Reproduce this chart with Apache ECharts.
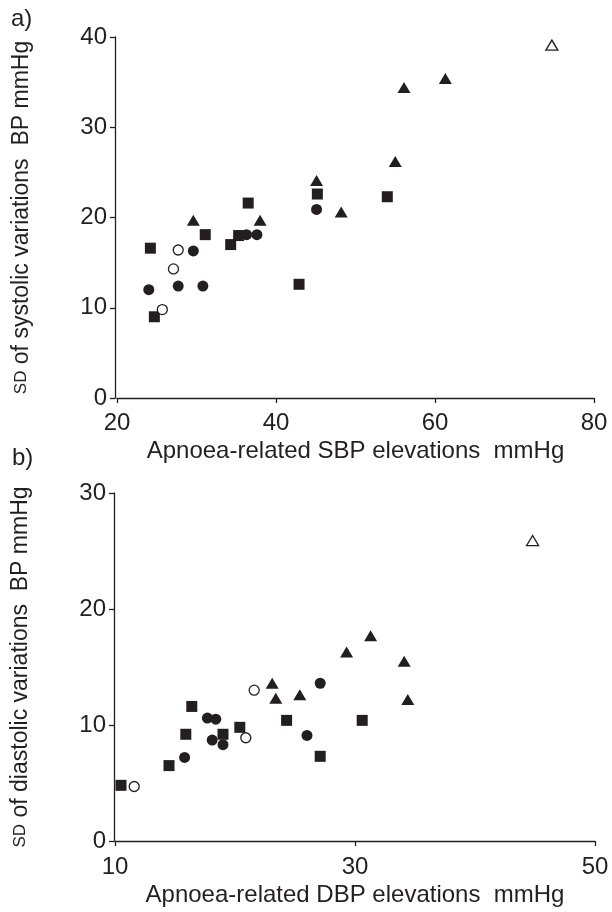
<!DOCTYPE html>
<html lang="en">
<head>
    <meta charset="UTF-8">
    <title>Apnoea-related BP elevations</title>
    <script src="https://cdn.jsdelivr.net/npm/echarts@6/dist/echarts.min.js"></script>
    <style>
        html, body { margin: 0; padding: 0; background: #fff; }
        #box { width: 612px; height: 912px; }
    </style>
</head>
<body>
<div id="box"></div>
<script>
    // a) systolic: [elevation, SD]
    var sbpSquares = [[24.2,16.6],[24.7,9.0],[31.1,18.1],[34.3,17.0],[35.3,18.0],[36.5,21.6],[42.9,12.6],[45.2,22.6],[54.0,22.3]];
    var sbpCircles = [[24.0,12.0],[27.7,12.4],[29.6,16.3],[30.8,12.4],[36.3,18.1],[37.6,18.1],[45.1,20.9]];
    var sbpOpenCircles = [[25.7,9.8],[27.1,14.3],[27.7,16.4]];
    var sbpTriangles = [[29.6,19.7],[38.0,19.7],[45.1,24.1],[48.2,20.6],[55.0,26.2],[56.1,34.4],[61.3,35.4]];
    var sbpOpenTriangles = [[74.7,39.1]];

    // b) diastolic
    var dbpSquares = [[10.5,4.8],[14.5,6.5],[15.9,9.2],[16.4,11.6],[19.0,9.2],[20.4,9.8],[24.3,10.4],[27.1,7.3],[30.6,10.4]];
    var dbpCircles = [[15.8,7.2],[17.7,10.6],[18.4,10.5],[18.1,8.7],[19.0,8.3],[26.0,9.1],[27.1,13.6]];
    var dbpOpenCircles = [[11.6,4.7],[20.9,8.9],[21.6,13.0]];
    var dbpTriangles = [[23.1,13.6],[23.4,12.3],[25.4,12.6],[29.3,16.3],[31.3,17.7],[34.1,15.5],[34.4,12.2]];
    var dbpOpenTriangles = [[44.8,25.9]];

    var ink = '#231f20';
    var font = '"Liberation Sans", Arial, sans-serif';

    function marks(data, idx, symbol, size, open) {
        return {
            type: 'scatter',
            xAxisIndex: idx,
            yAxisIndex: idx,
            symbol: symbol,
            symbolSize: size,
            data: data,
            silent: true,
            itemStyle: open
                ? { color: '#fff', borderColor: ink, borderWidth: 1.3, opacity: 1 }
                : { color: ink, opacity: 1 }
        };
    }

    function xAxis(idx, min, max, interval, name, offset) {
        return {
            gridIndex: idx, type: 'value', min: min, max: max, interval: interval,
            offset: offset,
            name: name, nameLocation: 'middle', nameGap: 36,
            nameTextStyle: { fontFamily: font, fontSize: 24, color: ink },
            axisLine: { show: true, lineStyle: { color: ink, width: 1.3 } },
            axisTick: { show: true, length: 5, lineStyle: { color: ink, width: 1.3 } },
            axisLabel: { fontFamily: font, fontSize: 24, color: ink, margin: 8 },
            splitLine: { show: false }
        };
    }

    function yAxis(idx, min, max, interval, label, offset) {
        return {
            gridIndex: idx, type: 'value', min: min, max: max, interval: interval,
            offset: offset,
            name: '{sd|SD} of ' + label + ' variations  BP mmHg',
            nameLocation: 'middle', nameGap: 82, nameRotate: 90,
            nameTextStyle: {
                fontFamily: font, fontSize: 23, color: ink,
                rich: { sd: { fontFamily: font, fontSize: 17, color: ink } }
            },
            axisLine: { show: true, lineStyle: { color: ink, width: 1.3 } },
            axisTick: { show: true, length: 5, lineStyle: { color: ink, width: 1.3 } },
            axisLabel: { fontFamily: font, fontSize: 24, color: ink, margin: 8 },
            splitLine: { show: false }
        };
    }

    var myChart = echarts.init(document.getElementById('box'), null, { renderer: 'canvas' });
    var option = {
        backgroundColor: '#fff',
        animation: false,
        title: [
            { text: 'a)', left: 6, top: 2, textStyle: { fontFamily: font, fontSize: 24, fontWeight: 'normal', color: ink } },
            { text: 'b)', left: 7, top: 441, textStyle: { fontFamily: font, fontSize: 24, fontWeight: 'normal', color: ink } }
        ],
        grid: [
            { left: 117, right: 18, top: 37, height: 361 },
            { left: 115, right: 17, top: 493, height: 348 }
        ],
        xAxis: [
            xAxis(0, 20, 80, 20, 'Apnoea-related SBP elevations  mmHg', 5),
            xAxis(1, 10, 50, 20, 'Apnoea-related DBP elevations  mmHg', 6)
        ],
        yAxis: [
            yAxis(0, 0, 40, 10, 'systolic', 2),
            yAxis(1, 0, 30, 10, 'diastolic', 1)
        ],
        series: [
            marks(sbpSquares, 0, 'rect', 11, false),
            marks(sbpCircles, 0, 'circle', 11, false),
            marks(sbpOpenCircles, 0, 'circle', 10, true),
            marks(sbpTriangles, 0, 'triangle', [13, 11], false),
            marks(sbpOpenTriangles, 0, 'triangle', [12, 10], true),
            marks(dbpSquares, 1, 'rect', 11, false),
            marks(dbpCircles, 1, 'circle', 11, false),
            marks(dbpOpenCircles, 1, 'circle', 10, true),
            marks(dbpTriangles, 1, 'triangle', [13, 11], false),
            marks(dbpOpenTriangles, 1, 'triangle', [12, 10], true)
        ]
    };
    myChart.setOption(option);
</script>
</body>
</html>
